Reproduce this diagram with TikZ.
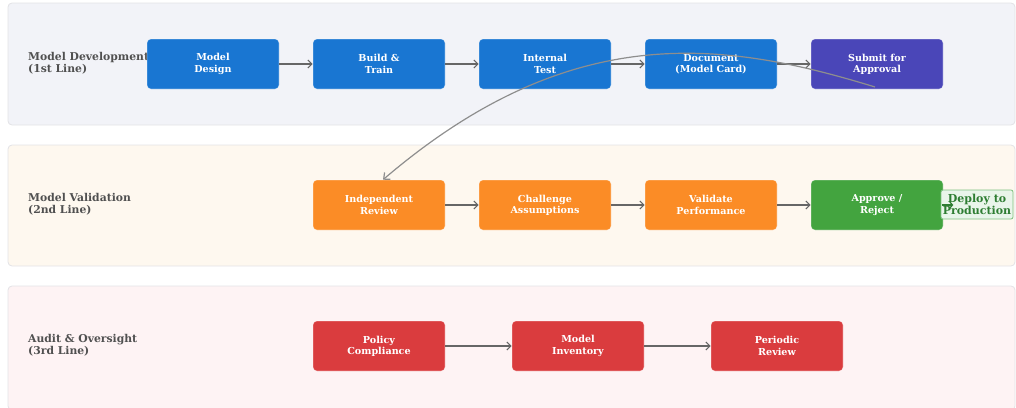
\documentclass[tikz,border=0pt]{standalone}
\usepackage{fontspec}
\setmainfont{DejaVu Serif}
\usetikzlibrary{arrows.meta}
\definecolor{cblue}{HTML}{1976D2}
\definecolor{cpurple}{HTML}{4A46B8}
\definecolor{corange}{HTML}{FB8C26}
\definecolor{cgreen}{HTML}{43A43F}
\definecolor{cred}{HTML}{DA3C3E}
\definecolor{laneA}{HTML}{F2F3F8}
\definecolor{laneB}{HTML}{FEF8EF}
\definecolor{laneC}{HTML}{FEF3F4}
\definecolor{laneborder}{HTML}{E2E2E6}
\definecolor{labelgray}{HTML}{505050}
\definecolor{arrowgray}{HTML}{666666}
\definecolor{curvegray}{HTML}{8E8E8E}
\definecolor{deployfill}{HTML}{E9F5EA}
\definecolor{deployborder}{HTML}{7CC07F}
\definecolor{deploytext}{HTML}{2E7D32}
\begin{document}
\begin{tikzpicture}[x=1pt,y=-1pt,
  lane/.style={draw=laneborder,line width=0.8pt,rounded corners=4pt},
  lanelabel/.style={anchor=west,align=left,font=\bfseries\fontsize{10.8}{12.5}\selectfont,text=labelgray,inner sep=0pt},
  proc/.style={rounded corners=4pt,minimum width=132pt,minimum height=50pt,inner sep=0pt,align=center,text=white,font=\bfseries\fontsize{9.6}{11.3}\selectfont,draw=white,draw opacity=0.4,line width=0.6pt},
  flow/.style={draw=arrowgray,line width=1.2pt,-{Straight Barb[length=4pt,width=8pt]}},
  backflow/.style={draw=curvegray,line width=1.2pt,-{Straight Barb[length=5pt,width=9pt]}}
]
\useasboundingbox (0,0) rectangle (1016,407);
% lanes
\filldraw[lane,fill=laneA] (8,3) rectangle (1015,125);
\filldraw[lane,fill=laneB] (8,145) rectangle (1015,266);
\filldraw[lane,fill=laneC] (8,286) rectangle (1015,410);
% lane labels
\node[lanelabel] (l1) at (28,63) {Model Development\\(1st Line)};
\node[lanelabel] (l2) at (28,204) {Model Validation\\(2nd Line)};
\node[lanelabel] (l3) at (28,345) {Audit \& Oversight\\(3rd Line)};
% row 1
\node[proc,fill=cblue] (design) at (213,64) {Model\\Design};
\node[proc,fill=cblue] (build) at (379,64) {Build \&\\Train};
\node[proc,fill=cblue] (itest) at (545,64) {Internal\\Test};
\node[proc,fill=cblue] (doc) at (711,64) {Document\\(Model Card)};
\node[proc,fill=cpurple] (submit) at (877,64) {Submit for\\Approval};
% row 2
\node[proc,fill=corange] (indep) at (379,205) {Independent\\Review};
\node[proc,fill=corange] (chall) at (545,205) {Challenge\\Assumptions};
\node[proc,fill=corange] (valid) at (711,205) {Validate\\Performance};
\node[proc,fill=cgreen] (approve) at (877,205) {Approve /\\Reject};
% row 3
\node[proc,fill=cred] (policy) at (379,346) {Policy\\Compliance};
\node[proc,fill=cred] (inv) at (578,346) {Model\\Inventory};
\node[proc,fill=cred] (peri) at (777,346) {Periodic\\Review};
% arrows
\draw[flow] (design) -- (build);
\draw[flow] (build) -- (itest);
\draw[flow] (itest) -- (doc);
\draw[flow] (doc) -- (submit);
\draw[flow] (indep) -- (chall);
\draw[flow] (chall) -- (valid);
\draw[flow] (valid) -- (approve);
\draw[flow] (policy) -- (inv);
\draw[flow] (inv) -- (peri);
% curved arrow back
\coordinate (cs) at (875,87);
\draw[backflow] (cs) .. controls (722,40) and (570,20) .. ([xshift=4pt]indep.north);
% deploy
\node[draw=deployborder,fill=deployfill,rounded corners=2pt,line width=0.8pt,minimum width=72pt,minimum height=29pt,inner sep=0pt,align=center,text=deploytext,font=\bfseries\fontsize{11}{11.5}\selectfont] (deploy) at (977,204.5) {Deploy to\\Production};
\coordinate (dp) at ([xshift=10pt]approve.east);
\draw[draw=deploytext,line width=1.2pt,-{Straight Barb[length=3pt,width=7pt]}] ([xshift=-1pt]approve.east) -- (dp);
\end{tikzpicture}
\end{document}
